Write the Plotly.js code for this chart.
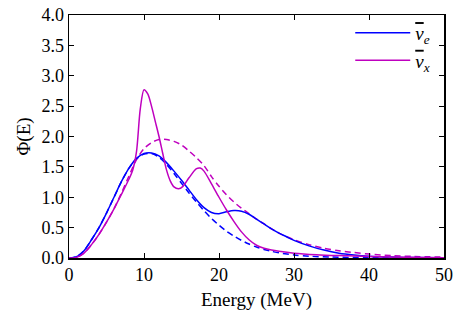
<!DOCTYPE html>
<html>
<head>
<meta charset="utf-8">
<script src="https://cdn.plot.ly/plotly-3.0.1.min.js"></script>
<style>
  html, body { margin: 0; padding: 0; background: #fff; }
  #chart { width: 463px; height: 324px; }
</style>
</head>
<body>
<div id="chart"></div>
<script>
// ------------------------------------------------------------
// spectra (E in MeV, Phi arbitrary units)
// ------------------------------------------------------------
const eBarE = [0, 1, 2, 3, 4, 5, 6, 7, 8, 9, 10, 11, 12, 13, 14, 15, 16, 17, 18, 19, 20,
  21, 22, 23, 24, 25, 26, 27, 28, 29, 30, 32, 34, 36, 38, 40, 43, 46, 50];
const phiBarE = [0, 0.02, 0.12, 0.30, 0.50, 0.74, 1.00, 1.26, 1.48, 1.64, 1.72, 1.73, 1.68, 1.57,
  1.43, 1.28, 1.12, 0.96, 0.83, 0.75, 0.73, 0.76, 0.78, 0.77, 0.72, 0.64, 0.56, 0.48, 0.41, 0.35,
  0.29, 0.20, 0.13, 0.08, 0.05, 0.03, 0.015, 0.007, 0.003];

const eBarEFit = [0, 1, 2, 3, 4, 5, 6, 7, 8, 9, 10, 11, 12, 13, 14, 15, 16, 17, 18, 19, 20,
  21, 22, 23, 24, 25, 26, 27, 28, 30, 32, 35, 40, 50];
const phiBarEFit = [0, 0.02, 0.12, 0.30, 0.50, 0.74, 1.00, 1.26, 1.48, 1.63, 1.71, 1.72, 1.66,
  1.54, 1.39, 1.23, 1.07, 0.92, 0.78, 0.65, 0.54, 0.44, 0.36, 0.29, 0.23, 0.18, 0.14, 0.11,
  0.085, 0.05, 0.03, 0.015, 0.005, 0.001];

const eBarX = [0, 1, 2, 3, 4, 5, 6, 7, 8, 8.5, 9, 9.5, 10, 10.5, 11, 11.5, 12, 12.5, 13, 13.5,
  14, 14.6, 15.2, 16, 17, 17.5, 18, 19, 20, 21, 22, 23, 24, 25, 26, 27, 28, 30, 33, 36, 40, 45, 50];
const phiBarX = [0, 0.01, 0.08, 0.22, 0.39, 0.59, 0.81, 1.05, 1.30, 1.45, 1.75, 2.45, 2.77, 2.70,
  2.50, 2.25, 2.00, 1.72, 1.45, 1.27, 1.17, 1.14, 1.18, 1.32, 1.47, 1.48, 1.43, 1.22, 1.00, 0.79,
  0.60, 0.43, 0.30, 0.21, 0.16, 0.13, 0.11, 0.08, 0.055, 0.04, 0.025, 0.012, 0.005];

const eBarXFit = [0, 1, 2, 3, 4, 5, 6, 7, 8, 9, 10, 11, 12, 13, 14, 15, 16, 17, 18, 19, 20,
  21, 22, 23, 24, 25, 26, 27, 28, 30, 32, 34, 36, 38, 40, 43, 46, 50];
const phiBarXFit = [0, 0.01, 0.08, 0.22, 0.39, 0.59, 0.81, 1.07, 1.35, 1.62, 1.80, 1.90, 1.95,
  1.95, 1.92, 1.86, 1.76, 1.65, 1.52, 1.34, 1.18, 1.04, 0.92, 0.82, 0.73, 0.64, 0.56, 0.48,
  0.41, 0.30, 0.22, 0.16, 0.12, 0.09, 0.065, 0.04, 0.025, 0.015];

const xTicks = [0, 10, 20, 30, 40, 50];
const yTicks = [0, 0.5, 1, 1.5, 2, 2.5, 3, 3.5, 4];

const BLUE = "#0000ff";
const MAGENTA = "#bf00bf";
const SERIF = "Liberation Serif";
const NUBAR = '<span style="text-decoration:overline"><i>ν</i></span>';

function curve(x, y, color, dashed, name) {
  return {
    x, y,
    type: "scatter",
    mode: "lines",
    name: name || "",
    showlegend: !!name,
    line: { color, width: 1.5, shape: "spline", smoothing: 0.8, dash: dashed ? "6px,4px" : "solid" },
    hoverinfo: "skip",
  };
}

const traces = [
  curve(eBarEFit, phiBarEFit, BLUE, true),
  curve(eBarXFit, phiBarXFit, MAGENTA, true),
  curve(eBarE, phiBarE, BLUE, false, NUBAR + "<sub><i>e</i></sub>"),
  curve(eBarX, phiBarX, MAGENTA, false, NUBAR + "<sub><i>x</i></sub>"),
];

const axisCommon = {
  showgrid: false,
  zeroline: false,
  showline: true,
  linecolor: "#000",
  linewidth: 1.5,
  mirror: "ticks",
  ticks: "inside",
  ticklen: 5,
  tickcolor: "#000",
  tickfont: { family: SERIF, size: 18, color: "#000" },
};

const layout = {
  width: 463,
  height: 324,
  margin: { l: 69, r: 19, t: 15, b: 66 },
  paper_bgcolor: "#fff",
  plot_bgcolor: "#fff",
  font: { family: SERIF, color: "#000" },
  xaxis: Object.assign({}, axisCommon, {
    range: [0, 50],
    tickvals: xTicks,
    ticktext: xTicks.map(String),
    title: { text: "Energy (MeV)", font: { family: SERIF, size: 19 }, standoff: 8 },
  }),
  yaxis: Object.assign({}, axisCommon, {
    range: [0, 4],
    tickvals: yTicks,
    ticktext: yTicks.map((v) => v.toFixed(1)),
    title: { text: "Φ(E)", font: { family: SERIF, size: 19 }, standoff: 6 },
  }),
  showlegend: true,
  legend: {
    x: 0.75, y: 1.005, xanchor: "left", yanchor: "top",
    bgcolor: "rgba(0,0,0,0)",
    borderwidth: 0,
    itemwidth: 55,
    font: { family: SERIF, size: 19, color: "#000" },
    tracegroupgap: 0,
  },
};

Plotly.newPlot("chart", traces, layout, { staticPlot: true, displayModeBar: false });
</script>
</body>
</html>
